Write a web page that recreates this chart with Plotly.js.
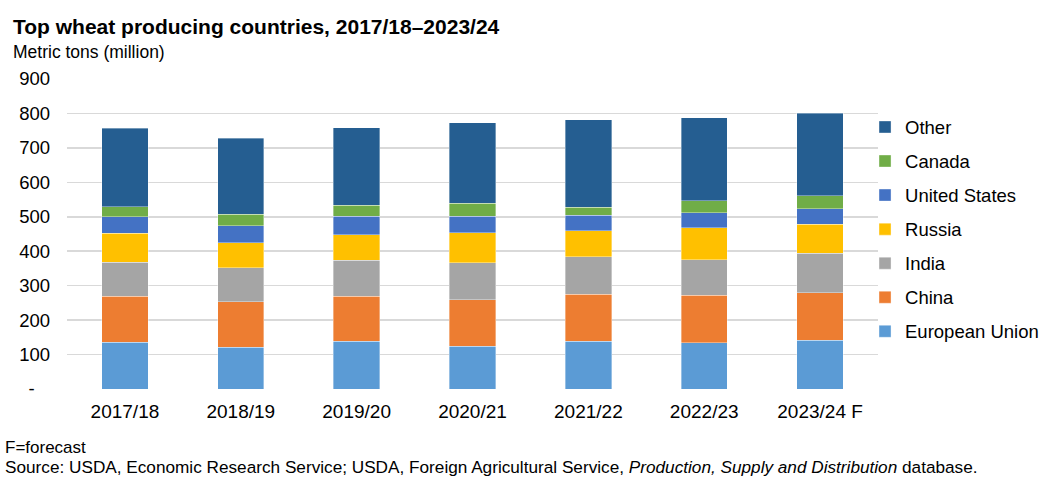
<!DOCTYPE html>
<html>
<head>
<meta charset="utf-8">
<script src="https://cdn.plot.ly/plotly-3.0.1.min.js"></script>
<style>html,body{margin:0;padding:0;background:#fff;}#chart{width:1056px;height:477px;}</style>
</head>
<body>
<div id="chart"></div>
<script>
const years = ["2017/18", "2018/19", "2019/20", "2020/21", "2021/22", "2022/23", "2023/24 F"];
const europeanUnion = [135.5, 121.0, 138.4, 124.0, 138.0, 134.5, 141.3];
const china = [134.5, 131.6, 131.6, 135.4, 136.8, 137.4, 138.4];
const india = [97.7, 99.6, 103.5, 107.5, 109.5, 103.6, 114.2];
const russia = [85.2, 72.6, 74.5, 86.1, 75.5, 92.9, 85.1];
const unitedStates = [47.4, 49.7, 53.3, 48.4, 44.5, 43.5, 43.6];
const canada = [29.0, 32.9, 31.9, 37.3, 24.0, 34.9, 38.7];
const other = [228.4, 220.7, 225.5, 234.2, 253.5, 240.9, 239.3];
const yTickVals = [0, 100, 200, 300, 400, 500, 600, 700, 800, 900];
const yTickText = ["-\u00a0\u00a0\u00a0", "100", "200", "300", "400", "500", "600", "700", "800", "900"];

const series = [
  {name: "European Union", y: europeanUnion, color: "#5B9BD5"},
  {name: "China", y: china, color: "#ED7D31"},
  {name: "India", y: india, color: "#A5A5A5"},
  {name: "Russia", y: russia, color: "#FFC000"},
  {name: "United States", y: unitedStates, color: "#4472C4"},
  {name: "Canada", y: canada, color: "#70AD47"},
  {name: "Other", y: other, color: "#255E91"}
];

const font = "Liberation Sans, Arial, sans-serif";
const traces = series.map((s, i) => ({
  type: "bar", name: s.name, x: years, y: s.y, legendgroup: s.name,
  legendrank: 1000 - i,
  marker: {color: s.color, line: {color: "rgba(255,255,255,0.6)", width: 0.6}},
  hoverinfo: "x+y+name"
}));

const layout = {
  width: 1056, height: 477,
  margin: {l: 67, r: 166, t: 79, b: 88},
  barmode: "stack", bargap: 0.6,
  paper_bgcolor: "#fff", plot_bgcolor: "#fff",
  font: {family: font, size: 18, color: "#000"},
  showlegend: true,
  legend: {
    traceorder: "grouped", tracegroupgap: 7,
    x: 0.984, xanchor: "left", y: 0.905, yanchor: "top",
    font: {family: font, size: 18.5, color: "#000"},
    bgcolor: "rgba(0,0,0,0)"
  },
  xaxis: {
    type: "category", showgrid: false, zeroline: false, showline: false,
    ticks: "", tickfont: {family: font, size: 19, color: "#000"},
    ticklabelstandoff: 9
  },
  yaxis: {
    range: [0, 900], tickmode: "array", tickvals: yTickVals, ticktext: yTickText,
    showgrid: true, gridcolor: "#D9D9D9", gridwidth: 1.5,
    zeroline: false, showline: false, ticks: "",
    tickfont: {family: font, size: 18.5, color: "#000"},
    ticklabelstandoff: 16
  },
  annotations: [
    {text: "<b>Top wheat producing countries, 2017/18–2023/24</b>", xref: "paper", yref: "paper",
     x: -67/823, y: 1 + (79 - 26)/310, xanchor: "left", yanchor: "middle", showarrow: false,
     font: {family: font, size: 21, color: "#000"}, xshift: 10},
    {text: "Metric tons (million)", xref: "paper", yref: "paper",
     x: -67/823, y: 1 + (79 - 52)/310, xanchor: "left", yanchor: "middle", showarrow: false,
     font: {family: font, size: 17.5, color: "#000"}, xshift: 10},
    {text: "F=forecast", xref: "paper", yref: "paper",
     x: -67/823, y: -(447 - 389)/310, xanchor: "left", yanchor: "middle", showarrow: false,
     font: {family: font, size: 17, color: "#000"}, xshift: 2},
    {text: "Source: USDA, Economic Research Service; USDA, Foreign Agricultural Service, <i>Production, Supply and Distribution</i> database.",
     xref: "paper", yref: "paper",
     x: -67/823, y: -(467 - 389)/310, xanchor: "left", yanchor: "middle", showarrow: false,
     font: {family: font, size: 17.2, color: "#000"}, xshift: 2}
  ]
};

Plotly.newPlot("chart", traces, layout, {displayModeBar: false, staticPlot: true});
</script>
</body>
</html>
